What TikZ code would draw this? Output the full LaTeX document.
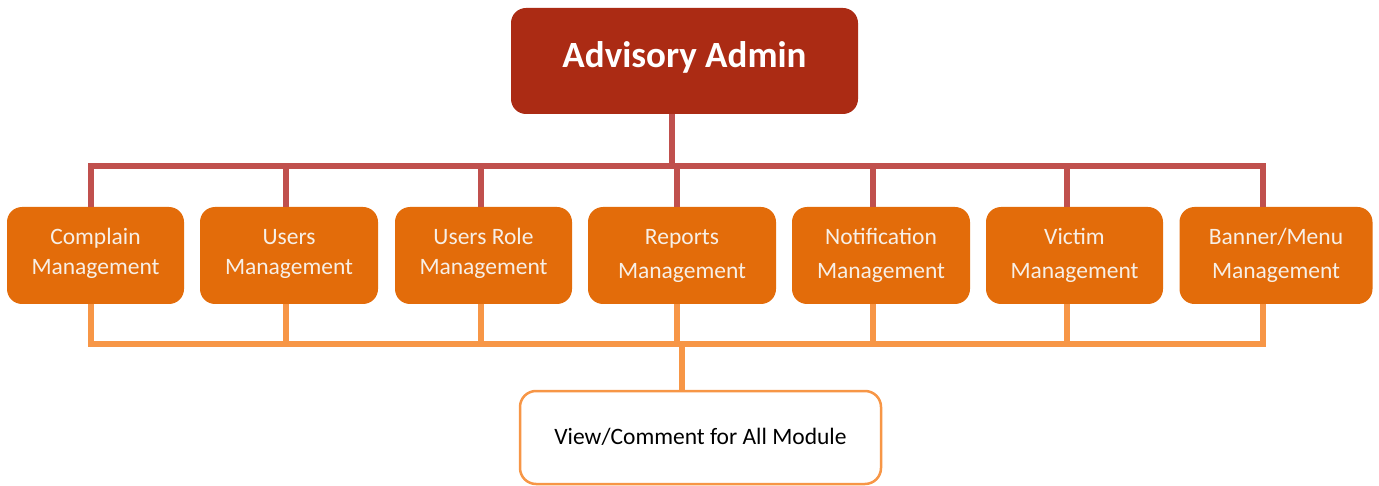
\documentclass[tikz,border=0pt]{standalone}
\usepackage{fontspec}
\setmainfont{Carlito}
\definecolor{topfill}{HTML}{AB2B14}
\definecolor{redline}{HTML}{C0504D}
\definecolor{boxfill}{HTML}{E36C0A}
\definecolor{orline}{HTML}{F79646}
\definecolor{boxtext}{HTML}{F7EFE6}
\newcommand{\twolines}[4]{\raisebox{#1}[0pt][0pt]{\vbox{\baselineskip=#2\lineskiplimit=-10pt\halign{\hfil##\hfil\cr #3\cr #4\cr}}}}
\begin{document}
\begin{tikzpicture}[x=1pt,y=-1pt,
  topbox/.style={draw=none,fill=topfill,rounded corners=15pt,minimum width=347pt,minimum height=106pt,text=white,font=\fontsize{37}{44}\selectfont\bfseries,inner sep=0pt},
  modbox/.style={draw=none,fill=boxfill,rounded corners=15pt,minimum height=97pt,text=boxtext,font=\fontsize{23.5}{31}\selectfont,inner sep=0pt},
  viewbox/.style={draw=orline,line width=2.5pt,fill=white,rounded corners=16pt,minimum width=361pt,minimum height=93pt,text=black,font=\fontsize{23.5}{30}\selectfont,inner sep=0pt},
  rline/.style={draw=redline,line width=6pt},
  oline/.style={draw=orline,line width=6pt}]
\useasboundingbox (0,0) rectangle (1379,486);
% top
\node[topbox] (top) at (684.5,61) {\raisebox{-7pt}[0pt][0pt]{Advisory Admin}};
% modules
\node[modbox,minimum width=177pt] (b1) at (95.5,255.5) {\twolines{-19.5pt}{30pt}{Complain}{Management}};
\node[modbox,minimum width=178pt] (b2) at (289,255.5) {\twolines{-19.5pt}{30pt}{Users}{Management}};
\node[modbox,minimum width=177pt] (b3) at (483.5,255.5) {\twolines{-19.5pt}{30pt}{Users Role}{Management}};
\node[modbox,minimum width=188pt] (b4) at (682,255.5) {\twolines{-23.5pt}{34pt}{Reports}{Management}};
\node[modbox,minimum width=178pt] (b5) at (881,255.5) {\twolines{-23.5pt}{34pt}{Notification}{Management}};
\node[modbox,minimum width=177pt] (b6) at (1074.5,255.5) {\twolines{-23.5pt}{34pt}{Victim}{Management}};
\node[modbox,minimum width=193pt] (b7) at (1276,255.5) {\twolines{-23.5pt}{34pt}{Banner/Menu}{Management}};
% bottom
\node[viewbox] (view) at (700.5,437.5) {\raisebox{-6.5pt}[0pt][0pt]{View/Comment for All Module}};
% drop x positions and bus levels
\coordinate (rbus) at (0,166);
\coordinate (obus) at (0,344);
\coordinate (d1) at (91,0);
\coordinate (d2) at (286,0);
\coordinate (d3) at (481,0);
\coordinate (d4) at (677,0);
\coordinate (d5) at (873,0);
\coordinate (d6) at (1067,0);
\coordinate (d7) at (1263,0);
\coordinate (tc) at (672,0);
\coordinate (vc) at (682,0);
% red connectors
\draw[rline] (top.south -| tc) -- (tc |- rbus);
\draw[rline,line join=miter] (d1 |- b1.north) -- (d1 |- rbus) -- (d7 |- rbus) -- (d7 |- b7.north);
\draw[rline] (d2 |- rbus) -- (d2 |- b2.north);
\draw[rline] (d3 |- rbus) -- (d3 |- b3.north);
\draw[rline] (d4 |- rbus) -- (d4 |- b4.north);
\draw[rline] (d5 |- rbus) -- (d5 |- b5.north);
\draw[rline] (d6 |- rbus) -- (d6 |- b6.north);
% orange connectors
\draw[oline,line join=miter] (d1 |- b1.south) -- (d1 |- obus) -- (d7 |- obus) -- (d7 |- b7.south);
\draw[oline] (d2 |- b2.south) -- (d2 |- obus);
\draw[oline] (d3 |- b3.south) -- (d3 |- obus);
\draw[oline] (d4 |- b4.south) -- (d4 |- obus);
\draw[oline] (d5 |- b5.south) -- (d5 |- obus);
\draw[oline] (d6 |- b6.south) -- (d6 |- obus);
\draw[oline] (vc |- obus) -- (view.north -| vc);
\end{tikzpicture}
\end{document}
